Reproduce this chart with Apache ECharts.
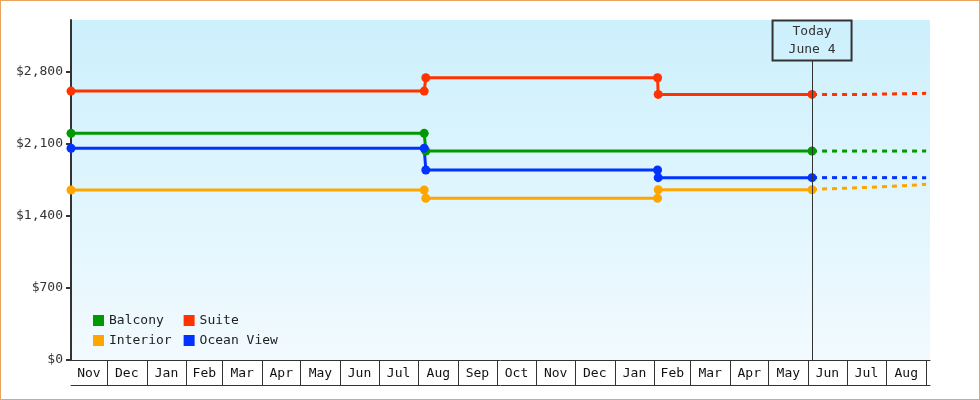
<!DOCTYPE html>
<html><head><meta charset="utf-8">
<script src="https://cdn.jsdelivr.net/npm/echarts@6/dist/echarts.min.js"></script>
<style>
html,body{margin:0;padding:0;background:#fff;}
#wrap{position:relative;width:980px;height:400px;}
#chart{position:absolute;left:0;top:0;width:980px;height:400px;}
#frame{position:absolute;left:0;top:0;width:978px;height:398px;border:1px solid #e9a55c;pointer-events:none;}
</style></head><body>
<div id="wrap"><div id="chart"></div><div id="frame"></div></div>
<script>
const FONT = '"DejaVu Sans Mono", "Liberation Mono", monospace';

// ---- data ----
const xMin = '2021-11-03';
const xMax = '2023-09-04';
const todayDate = '2023-06-04';
const todayLabel = 'Today\nJune 4';
const monthLabels = ['Nov','Dec','Jan','Feb','Mar','Apr','May','Jun','Jul','Aug','Sep','Oct',
                     'Nov','Dec','Jan','Feb','Mar','Apr','May','Jun','Jul','Aug','Sep'];
const monthStarts = ['2021-11-01','2021-12-01','2022-01-01','2022-02-01','2022-03-01','2022-04-01',
                     '2022-05-01','2022-06-01','2022-07-01','2022-08-01','2022-09-01','2022-10-01',
                     '2022-11-01','2022-12-01','2023-01-01','2023-02-01','2023-03-01','2023-04-01',
                     '2023-05-01','2023-06-01','2023-07-01','2023-08-01','2023-09-01','2023-10-01'];
const yTicks = [0, 700, 1400, 2100, 2800];
const seriesNames = ['Balcony', 'Suite', 'Interior', 'Ocean View'];
const seriesColors = ['#009900', '#ff3300', '#ffa500', '#0033ff'];

const balcony   = [['2021-11-03',2200],['2022-08-05 12:00',2200],['2022-08-06 18:00',2028],['2023-06-04',2028]];
const suite     = [['2021-11-03',2610],['2022-08-05 12:00',2610],['2022-08-06 18:00',2740],['2023-02-03 12:00',2740],['2023-02-04',2578],['2023-06-04',2578]];
const interior  = [['2021-11-03',1650],['2022-08-05 12:00',1650],['2022-08-06 18:00',1570],['2023-02-03 12:00',1570],['2023-02-04',1652],['2023-06-04',1652]];
const oceanView = [['2021-11-03',2055],['2022-08-05 12:00',2055],['2022-08-06 18:00',1844],['2023-02-03 12:00',1844],['2023-02-04',1770],['2023-06-04',1770]];

const balconyForecast   = [['2023-06-04',2028],['2023-09-01',2028]];
const suiteForecast     = [['2023-06-04',2578],['2023-07-16',2578],['2023-07-17',2588],['2023-09-01',2588]];
const interiorForecast  = [['2023-06-04',1652],['2023-06-10',1660],['2023-07-01',1667],['2023-07-20',1677],['2023-08-05',1685],['2023-08-20',1695],['2023-09-01',1705]];
const oceanViewForecast = [['2023-06-04',1770],['2023-09-01',1770]];

// ---- build ----
function toTime(s){ const p = s.split('-').map(Number); return new Date(p[0], p[1]-1, p[2]).getTime(); }
const monthCells = monthLabels.map((m,i)=>[toTime(monthStarts[i]), toTime(monthStarts[i+1]), 0]);

const actual = [balcony, suite, interior, oceanView];
const forecast = [balconyForecast, suiteForecast, interiorForecast, oceanViewForecast];

const series = [];
forecast.forEach((d,i)=>{
  series.push({
    name: seriesNames[i] + ' forecast', type:'line', data:d, color: seriesColors[i],
    showSymbol:false, symbol:'none', lineStyle:{width:3, type:[5,5], color: seriesColors[i]},
    silent:true, z:2
  });
});
actual.forEach((d,i)=>{
  series.push({
    name: seriesNames[i], type:'line', data:d, color: seriesColors[i],
    symbol:'circle', symbolSize:9, showAllSymbol:true,
    lineStyle:{width:3, color: seriesColors[i]}, itemStyle:{color: seriesColors[i]},
    silent:true, z:3
  });
});
// today marker line
series.push({
  name:'today', type:'line', data:[], silent:true, z:1,
  markLine:{
    silent:true, symbol:['none','none'], animation:false,
    lineStyle:{color:'#333', width:1, type:'solid'},
    emphasis:{disabled:true},
    label:{
      show:true, position:'end', distance:0, formatter: todayLabel,
      fontFamily: FONT, fontSize:13, color:'#333', lineHeight:18,
      width:79, height:36, padding:[2,0,2,0], align:'center', verticalAlign:'bottom',
      borderColor:'#333', borderWidth:1, backgroundColor:'rgba(0,0,0,0)'
    },
    data:[[{coord:[todayDate, 0]},{coord:[todayDate, 2906]}]]
  }
});
// month cells
series.push({
  type:'custom', xAxisIndex:1, yAxisIndex:1, data: monthCells, silent:true, clip:false,
  encode:{x:[0,1], y:2},
  renderItem(params, api){
    const cs = params.coordSys;
    const s = api.coord([api.value(0), 0])[0];
    const e = api.coord([api.value(1), 0])[0];
    const left = cs.x, right = cs.x + cs.width;
    const x0 = Math.max(s, left), x1 = Math.min(e, right);
    const children = [];
    if (s > left + 0.5 && s < right) {
      const xs = Math.round(s) + 0.5;
      children.push({type:'line', shape:{x1:xs, y1:cs.y, x2:xs, y2:cs.y+cs.height}, style:{stroke:'#333', lineWidth:1}});
    }
    if (x1 - x0 > 20) {
      children.push({type:'text', x:(x0+x1)/2, y:cs.y+cs.height/2+1,
        style:{text: monthLabels[params.dataIndex], align:'center', verticalAlign:'middle', font:'13px '+FONT, fill:'#111'}});
    }
    return {type:'group', children};
  }
});

const legendCommon = {
  orient:'horizontal', padding:0, itemWidth:11, itemHeight:11, itemGap:12, icon:'rect',
  selectedMode:false,
  formatter: name => name.padEnd(8, '\u00a0'),
  textStyle:{fontFamily:FONT, fontSize:13, color:'#222'}
};

const option = {
  animation:false,
  backgroundColor:'#fff',
  textStyle:{fontFamily:FONT},
  grid:[
    {left:71, top:20, right:50, bottom:40, show:true, borderWidth:0,
     backgroundColor:{type:'linear', x:0, y:0, x2:0, y2:1,
       colorStops:[{offset:0, color:'#ccf0fc'},{offset:1, color:'#f2faff'}]}},
    {left:71, top:360, right:50, height:25}
  ],
  legend:[
    Object.assign({data:['Balcony','Suite'], left:93, top:314}, legendCommon),
    Object.assign({data:['Interior','Ocean View'], left:93, top:334}, legendCommon)
  ],
  xAxis:[
    {type:'time', gridIndex:0, min:xMin, max:xMax,
     axisLine:{show:true, lineStyle:{color:'#333', width:1}},
     axisTick:{show:false}, axisLabel:{show:false}, splitLine:{show:false}},
    {type:'time', gridIndex:1, min:xMin, max:xMax, position:'bottom',
     axisLine:{show:true, lineStyle:{color:'#333', width:1}},
     axisTick:{show:false}, axisLabel:{show:false}, splitLine:{show:false}}
  ],
  yAxis:[
    {type:'value', gridIndex:0, min:0, max:3300,
     axisLine:{show:true, lineStyle:{color:'#333', width:2}},
     axisTick:{show:true, length:5, customValues:yTicks, lineStyle:{color:'#333', width:2}},
     axisLabel:{customValues:yTicks, margin:8, fontFamily:FONT, fontSize:13, color:'#333',
       formatter:v=>'$'+v.toLocaleString('en-US')},
     splitLine:{show:false}},
    {type:'value', gridIndex:1, min:0, max:1, show:false}
  ],
  series
};
const chart = echarts.init(document.getElementById('chart'));
chart.setOption(option);
</script>
</body></html>
